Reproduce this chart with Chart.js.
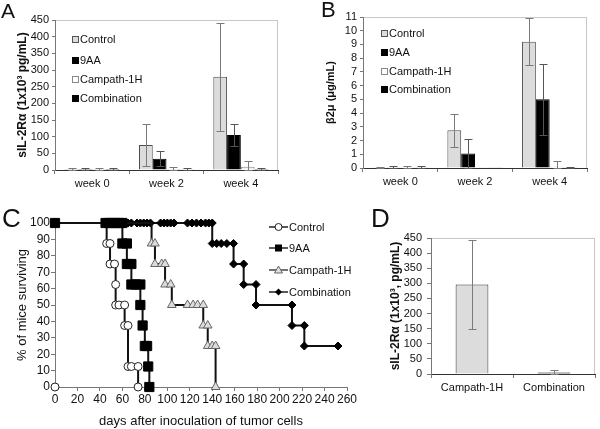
<!DOCTYPE html>
<html>
<head>
<meta charset="utf-8">
<script src="https://cdn.jsdelivr.net/npm/chart.js@4"></script>
<style>
  body { margin: 0; background: #fff; }
  #fig { position: relative; width: 600px; height: 429px; overflow: hidden; font-family: 'Liberation Sans', Arial, sans-serif; color: #111; }
  #fig canvas, .tag, .key { position: absolute; }
  .tag { line-height: 1; }
  .key { font-size: 11px; line-height: 14px; white-space: nowrap; }
  .key i { display: inline-block; width: 5px; height: 5px; border: 1px solid #555; margin-right: 1px; vertical-align: 0px; }
  .key svg { vertical-align: -1px; margin-right: 1px; }
</style>
</head>
<body>
<div id="fig">
  <canvas id="chartA" width="300" height="195" style="left:0;top:0"></canvas>
  <canvas id="chartB" width="300" height="195" style="left:300px;top:0"></canvas>
  <canvas id="chartC" width="365" height="234" style="left:0;top:195px"></canvas>
  <canvas id="chartD" width="235" height="234" style="left:365px;top:195px"></canvas>

  <div class="tag" style="left:1px;top:0;font-size:21px">A</div>
  <div class="tag" style="left:321px;top:-1px;font-size:22px">B</div>
  <div class="tag" style="left:2px;top:205px;font-size:26px">C</div>
  <div class="tag" style="left:371px;top:205px;font-size:26px">D</div>

  <div class="key" style="left:72px;top:32px"><i style="background:#dcdcdc"></i>Control</div>
  <div class="key" style="left:72px;top:53px"><i style="background:#000;border-color:#000"></i>9AA</div>
  <div class="key" style="left:72px;top:72px"><i style="background:#fff;border-color:#888"></i>Campath-1H</div>
  <div class="key" style="left:72px;top:91px"><i style="background:#000;border-color:#000"></i>Combination</div>

  <div class="key" style="left:381px;top:26px"><i style="background:#dcdcdc"></i>Control</div>
  <div class="key" style="left:381px;top:45px"><i style="background:#000;border-color:#000"></i>9AA</div>
  <div class="key" style="left:381px;top:64px"><i style="background:#fff;border-color:#888"></i>Campath-1H</div>
  <div class="key" style="left:381px;top:82px"><i style="background:#000;border-color:#000"></i>Combination</div>

  <div class="key" style="left:269px;top:220px"><svg width="19" height="10"><line x1="0" y1="5" x2="19" y2="5" stroke="#222" stroke-width="1.5"/><circle cx="9.5" cy="5" r="3.5" fill="#fff" stroke="#222"/></svg>Control</div>
  <div class="key" style="left:269px;top:241px"><svg width="19" height="10"><line x1="0" y1="5" x2="19" y2="5" stroke="#222" stroke-width="1.5"/><rect x="6" y="1.5" width="7" height="7" fill="#000"/></svg>9AA</div>
  <div class="key" style="left:269px;top:263px"><svg width="19" height="10"><line x1="0" y1="5" x2="19" y2="5" stroke="#444" stroke-width="1.5"/><polygon points="9.5,1 13.5,8 5.5,8" fill="#ddd" stroke="#666"/></svg>Campath-1H</div>
  <div class="key" style="left:269px;top:285px"><svg width="19" height="10"><line x1="0" y1="5" x2="19" y2="5" stroke="#222" stroke-width="1.5"/><polygon points="9.5,1.5 13,5 9.5,8.5 6,5" fill="#000"/></svg>Combination</div>
</div>

<script>
// A / B: serum markers by week
const weeks = ['week 0', 'week 2', 'week 4'];

const il2Control = [3, 75, 280];
const il2ControlErr = [2, 63, 162];
const il2NineAA = [3, 34, 105];
const il2NineAAErr = [2, 22, 32];
const il2Campath = [3, 3, 10];
const il2CampathErr = [2, 5, 16];
const il2Combo = [3, 2, 3];
const il2ComboErr = [2, 3, 3];

const b2mControl = [0.05, 2.75, 9.2];
const b2mControlErr = [0.03, 1.2, 1.7];
const b2mNineAA = [0.05, 1.05, 5.0];
const b2mNineAAErr = [0.12, 1.05, 2.6];
const b2mCampath = [0.05, 0.02, 0.1];
const b2mCampathErr = [0.08, 0, 0.4];
const b2mCombo = [0.05, 0.02, 0.05];
const b2mComboErr = [0.12, 0, 0.05];

// C: survival (markers only, steps drawn by the line)
const controlDays = [0, 46, 49, 49, 53, 54, 54, 57, 62, 62, 65, 65, 68, 74, 74];
const controlSurvival = [100, 87.5, 87.5, 75, 75, 62.5, 50, 50, 50, 37.5, 37.5, 12.5, 12.5, 12.5, 0];
const controlExtraDays = [0];
const controlExtraSurvival = [0];
const nineAADays = [0, 45, 48, 51, 54, 57, 60, 60, 64, 64, 68, 68, 72, 76, 76, 78, 80, 82, 83, 84];
const nineAASurvival = [100, 100, 100, 100, 100, 100, 100, 87.5, 87.5, 75, 75, 62.5, 62.5, 62.5, 50, 37.5, 25, 25, 12.5, 0];
const campathDays = [0, 86, 89, 89, 95, 98, 98, 103, 104, 118, 123, 127, 132, 132, 136, 136, 140, 143, 143];
const campathSurvival = [100, 87.5, 87.5, 75, 75, 75, 62.5, 62.5, 50, 50, 50, 50, 50, 37.5, 37.5, 25, 25, 25, 0];
const comboDays = [0, 65, 68, 73, 76, 79, 82, 85, 94, 97, 100, 103, 106, 118, 122, 126, 130, 134, 137, 140,
    140, 144, 148, 153, 159, 159, 168, 168, 179, 179, 211, 211, 222, 222, 252];
const comboSurvival = [100, 100, 100, 100, 100, 100, 100, 100, 100, 100, 100, 100, 100, 100, 100, 100, 100, 100, 100, 100,
    87.5, 87.5, 87.5, 87.5, 87.5, 75, 75, 62.5, 62.5, 50, 50, 37.5, 37.5, 25, 25];

// D
const dGroups = ['Campath-1H', 'Combination'];
const dValues = [296, 5];
const dErrors = [148, 8];

Chart.defaults.font.family = "'Liberation Sans', Arial, sans-serif";
Chart.defaults.color = '#111';

const frame = {
    id: 'frame',
    beforeDraw(chart) {
        const {ctx, chartArea: a} = chart;
        ctx.save();
        ctx.strokeStyle = '#c8c8c8';
        ctx.lineWidth = 1;
        ctx.strokeRect(Math.round(a.left) + 0.5, Math.round(a.top) + 0.5, Math.round(a.width) - 1, Math.round(a.height));
        ctx.restore();
    }
};

const errorBars = {
    id: 'errorBars',
    afterDatasetsDraw(chart) {
        const ctx = chart.ctx;
        const yScale = chart.scales.y;
        chart.data.datasets.forEach((ds, i) => {
            if (!ds.errors) return;
            chart.getDatasetMeta(i).data.forEach((bar, j) => {
                const err = ds.errors[j];
                if (!err) return;
                const x = Math.round(bar.x) + 0.5;
                const hi = Math.round(yScale.getPixelForValue(ds.data[j] + err)) + 0.5;
                const lo = Math.round(yScale.getPixelForValue(Math.max(ds.data[j] - err, 0))) + 0.5;
                ctx.save();
                ctx.strokeStyle = ds.errorColor || '#777';
                ctx.lineWidth = 1;
                ctx.beginPath();
                ctx.moveTo(x, hi); ctx.lineTo(x, lo);
                ctx.moveTo(x - 4, hi); ctx.lineTo(x + 4, hi);
                ctx.moveTo(x - 4, lo); ctx.lineTo(x + 4, lo);
                ctx.stroke();
                ctx.restore();
            });
        });
    }
};

const barStyles = [
    {label: 'Control', backgroundColor: '#dcdcdc', borderColor: '#4d4d4d', errorColor: '#7a7a7a'},
    {label: '9AA', backgroundColor: '#000', borderColor: '#000', errorColor: '#555'},
    {label: 'Campath-1H', backgroundColor: '#f2f2f2', borderColor: '#8a8a8a', errorColor: '#7a7a7a'},
    {label: 'Combination', backgroundColor: '#000', borderColor: '#000', errorColor: '#555'}
];

function weekChart(id, values, errors, yMax, yStep, yTitle, box) {
    return new Chart(document.getElementById(id), {
        type: 'bar',
        data: {
            labels: weeks,
            datasets: barStyles.map((st, i) => Object.assign({}, st, {
                data: values[i],
                errors: errors[i],
                borderWidth: 1,
                categoryPercentage: 0.74,
                barPercentage: 1
            }))
        },
        options: {
            responsive: false,
            animation: false,
            layout: {padding: {top: box.top, right: box.right, left: 0, bottom: 0}},
            plugins: {legend: {display: false}, tooltip: {enabled: false}},
            scales: {
                x: {
                    grid: {drawOnChartArea: false, tickLength: 4, color: '#777'},
                    border: {color: '#333'},
                    ticks: {font: {size: 11}, padding: 3},
                    afterFit: s => { s.height = box.xh; }
                },
                y: {
                    min: 0,
                    max: yMax,
                    ticks: {stepSize: yStep, font: {size: 11}, padding: 3, autoSkip: false},
                    grid: {drawOnChartArea: false, tickLength: 3, color: '#777'},
                    border: {color: '#777'},
                    title: {display: true, text: yTitle, font: {size: box.tf, weight: 'bold'}, padding: {top: box.tp, bottom: 0}},
                    afterFit: s => { s.width = box.yw; }
                }
            }
        },
        plugins: [frame, errorBars]
    });
}

weekChart('chartA',
    [il2Control, il2NineAA, il2Campath, il2Combo],
    [il2ControlErr, il2NineAAErr, il2CampathErr, il2ComboErr],
    450, 50, 'sIL-2R\u03b1 (1x10\u00b3 pg/mL)',
    {top: 20, right: 22, xh: 25, yw: 55, tp: 15, tf: 12});

weekChart('chartB',
    [b2mControl, b2mNineAA, b2mCampath, b2mCombo],
    [b2mControlErr, b2mNineAAErr, b2mCampathErr, b2mComboErr],
    11, 1, '\u03b22\u03bc (\u03bcg/mL)',
    {top: 17, right: 13, xh: 27, yw: 63, tp: 24, tf: 11});

const toPoints = (xs, ys) => xs.map((x, i) => ({x: x, y: ys[i]}));

new Chart(document.getElementById('chartC'), {
    type: 'scatter',
    data: {
        datasets: [
            {
                label: 'Control',
                data: toPoints(controlDays, controlSurvival),
                order: 1,
                pointStyle: 'circle',
                pointRadius: 4,
                pointBackgroundColor: '#fff',
                pointBorderColor: '#222'
            },
            {
                label: 'Control',
                data: toPoints(controlExtraDays, controlExtraSurvival),
                showLine: false,
                order: 1,
                pointStyle: 'circle',
                pointRadius: 4,
                pointBackgroundColor: '#fff',
                pointBorderColor: '#222'
            },
            {
                label: '9AA',
                data: toPoints(nineAADays, nineAASurvival),
                order: 0,
                pointStyle: 'rect',
                pointRadius: 6.5,
                pointBackgroundColor: '#000',
                pointBorderColor: '#000'
            },
            {
                label: 'Campath-1H',
                data: toPoints(campathDays, campathSurvival),
                order: 2,
                pointStyle: 'triangle',
                pointRadius: 5,
                pointBackgroundColor: '#dcdcdc',
                pointBorderColor: '#666'
            },
            {
                label: 'Combination',
                data: toPoints(comboDays, comboSurvival),
                order: 3,
                pointStyle: 'rectRot',
                pointRadius: 4,
                pointBackgroundColor: '#000',
                pointBorderColor: '#000'
            }
        ].map(ds => Object.assign({
            showLine: true,
            stepped: true,
            borderColor: '#111',
            borderWidth: 2,
            pointBorderWidth: 1,
            clip: false
        }, ds))
    },
    options: {
        responsive: false,
        animation: false,
        layout: {padding: {top: 28, right: 18, left: 0, bottom: 0}},
        plugins: {legend: {display: false}, tooltip: {enabled: false}},
        scales: {
            x: {
                type: 'linear',
                min: 0,
                max: 260,
                ticks: {stepSize: 20, font: {size: 12}, padding: 1, autoSkip: false, maxRotation: 0, minRotation: 0},
                grid: {drawOnChartArea: false, tickLength: 4, color: '#777'},
                border: {color: '#777'},
                title: {display: true, text: 'days after inoculation of tumor cells', font: {size: 13}, padding: {top: 0, bottom: 0}},
                afterFit: s => { s.height = 42; }
            },
            y: {
                min: 0,
                max: 100,
                ticks: {stepSize: 10, font: {size: 12}, padding: 1, autoSkip: false},
                grid: {drawOnChartArea: false, tickLength: 4, color: '#777'},
                border: {color: '#777'},
                title: {display: true, text: '% of mice surviving', font: {size: 13}, padding: {top: 15, bottom: 0}},
                afterFit: s => { s.width = 55; }
            }
        }
    }
});

new Chart(document.getElementById('chartD'), {
    type: 'bar',
    data: {
        labels: dGroups,
        datasets: [{
            data: dValues,
            errors: dErrors,
            errorColor: '#7a7a7a',
            backgroundColor: ['#dcdcdc', '#000'],
            borderColor: ['#333', '#000'],
            borderWidth: 1,
            categoryPercentage: 1,
            barPercentage: 0.4
        }]
    },
    options: {
        responsive: false,
        animation: false,
        layout: {padding: {top: 43, right: 5, left: 0, bottom: 0}},
        plugins: {legend: {display: false}, tooltip: {enabled: false}},
        scales: {
            x: {
                grid: {drawOnChartArea: false, tickLength: 4, color: '#777'},
                border: {color: '#333'},
                ticks: {font: {size: 11}, padding: 3},
                afterFit: s => { s.height = 55; }
            },
            y: {
                min: 0,
                max: 450,
                ticks: {stepSize: 50, font: {size: 11}, padding: 5, autoSkip: false},
                grid: {drawOnChartArea: false, tickLength: 4, color: '#777'},
                border: {color: '#777'},
                title: {display: true, text: 'sIL-2R\u03b1 (1x10\u00b3, pg/mL)', font: {size: 12, weight: 'bold'}, padding: {top: 23, bottom: 0}},
                afterFit: s => { s.width = 66; }
            }
        }
    },
    plugins: [frame, errorBars]
});
</script>
</body>
</html>
